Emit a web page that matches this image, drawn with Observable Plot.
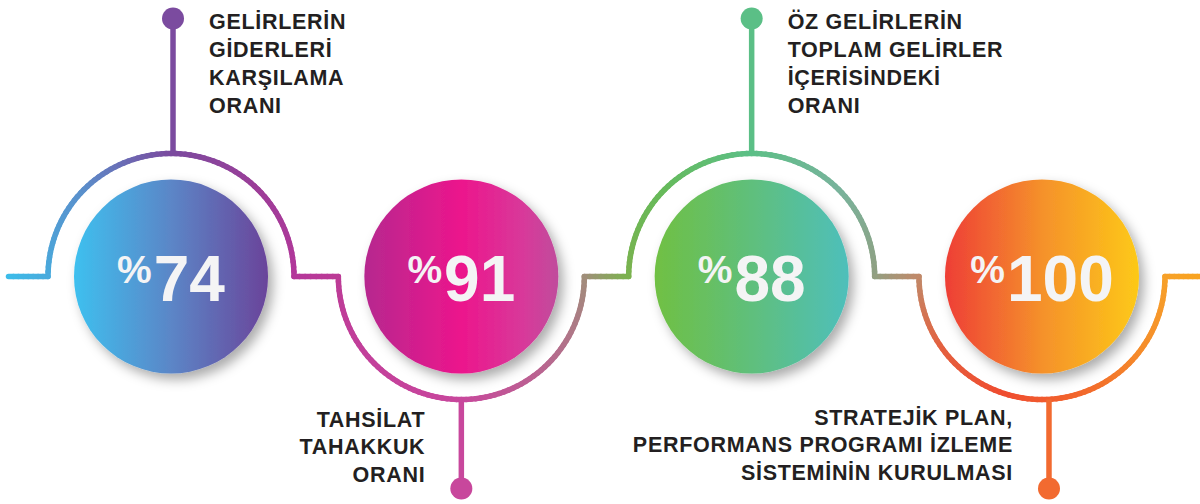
<!DOCTYPE html>
<html>
<head>
<meta charset="utf-8">
<script src="https://cdn.jsdelivr.net/npm/d3@7"></script>
<script src="https://cdn.jsdelivr.net/npm/@observablehq/plot@0.6"></script>
<style>
  html, body { margin: 0; padding: 0; background: #ffffff; }
  #chart svg { display: block; }
</style>
</head>
<body>
<div id="chart"></div>
<script>
// ---- DATA ----
const categories = [
  "GELİRLERİN\nGİDERLERİ\nKARŞILAMA\nORANI",
  "TAHSİLAT\nTAHAKKUK\nORANI",
  "ÖZ GELİRLERİN\nTOPLAM GELİRLER\nİÇERİSİNDEKİ\nORANI",
  "STRATEJİK PLAN,\nPERFORMANS PROGRAMI İZLEME\nSİSTEMİNİN KURULMASI"
];
const values = [74, 91, 88, 100];
const sides = ["top", "bottom", "top", "bottom"];

// ---- STYLE / LAYOUT ----
const W = 1200, H = 504;
const unit = 290.325;            // px per category step
const cy = 276;                  // centre line (px)
const R = 97;                    // ball radius (px)
const RA = 123;                  // arc radius (px)
const stemOff = [2, 0, 0, 7];    // px
const stemTopY = 18, stemBottomY = 488, dotR = 11;
const lineW = 5.5;
const labelSize = 21.5;
const valueFill = "#f4f4f5";
const labelFill = "#231f21";
const stemColors = ["#7b4b9f", "#c8479c", "#5bbf86", "#f26a30"];
const circleStops = [
  [[0, "#3ec0ef"], [0.5, "#5b86c7"], [1, "#6a449a"]],
  [[0, "#b6288f"], [0.5, "#ec168c"], [0.82, "#d8399a"], [1, "#c04c9c"]],
  [[0, "#70c043"], [0.5, "#5fbf7c"], [1, "#4ebfbb"]],
  [[0, "#ee3e36"], [0.5, "#f5912b"], [1, "#fdc918"]]
];
const pieces = [
  {type: "h", from: -162.5, to: -RA, i: 0, stops: ["#3bbdea", "#48abdd"]},
  {type: "top", i: 0, stops: ["#48abdd", "#5a90cc", "#7a4b9f", "#9c3d98", "#b3379a"]},
  {type: "h", i: 0, from: RA, to: unit - RA, stops: ["#b3379a", "#bc3b96"]},
  {type: "bottom", i: 1, stops: ["#bc3b96", "#c3409b", "#c8479c", "#b8678f", "#a28c7c"]},
  {type: "h", i: 1, from: RA, to: unit - RA, stops: ["#a28c7c", "#7cb24e"]},
  {type: "top", i: 2, stops: ["#7cb24e", "#66ba5a", "#5cbf86", "#78b39c", "#90a082"]},
  {type: "h", i: 2, from: RA, to: unit - RA, stops: ["#90a082", "#c08a6a"]},
  {type: "bottom", i: 3, stops: ["#c08a6a", "#e4613f", "#ef4c30", "#f2662c", "#f58c2a", "#f7a12a"]},
  {type: "h", i: 3, from: RA, to: 160, stops: ["#f7a12a", "#f8a31f"]}
];

// geometry of the connector line (derived from layout, not data)
const segs = [];
for (const p of pieces) {
  const interp = d3.piecewise(d3.interpolateRgb, p.stops);
  const n = p.type === "h" ? 8 : 80;
  const pt = (t) => {
    if (p.type === "h") return [p.i + (p.from + (p.to - p.from) * t) / unit, cy];
    const a = Math.PI * (1 - t);
    const dy = RA * Math.sin(a);
    return [p.i + RA * Math.cos(a) / unit, p.type === "top" ? cy - dy : cy + dy];
  };
  for (let k = 0; k < n; k++) {
    const t0 = k / n, t1 = (k + 1) / n;
    const [x1, y1] = pt(t0), [x2, y2] = pt(t1);
    segs.push({x1, y1, x2, y2, c: interp((t0 + t1) / 2)});
  }
}

const idx = values.map((d, i) => i);

const svg = Plot.plot({
  width: W,
  height: H,
  margin: 0,
  x: {domain: [-0.5, 3.5], range: [25.35, 1186.65], axis: null},
  y: {domain: [0, H], range: [0, H], axis: null},
  color: {type: "identity"},
  style: {background: "#ffffff"},
  marks: [
    Plot.link(segs, {x1: "x1", y1: "y1", x2: "x2", y2: "y2", stroke: "c", strokeWidth: lineW, strokeLinecap: "round"}),
    Plot.link(idx, {
      x1: i => i + stemOff[i] / unit, x2: i => i + stemOff[i] / unit,
      y1: i => sides[i] === "top" ? cy - RA : cy + RA,
      y2: i => sides[i] === "top" ? stemTopY : stemBottomY,
      stroke: i => stemColors[i], strokeWidth: lineW
    }),
    Plot.dot(idx, {
      x: i => i + stemOff[i] / unit,
      y: i => sides[i] === "top" ? stemTopY : stemBottomY,
      r: dotR, fill: i => stemColors[i], stroke: null
    }),
    Plot.dot(values, {x: (d, i) => i, y: () => cy, r: R, fill: (d, i) => `url(#cg${i})`, stroke: null}),
    Plot.text(values, {
      x: (d, i) => i, y: () => cy, text: d => "%" + d,
      fontSize: 64, fontWeight: "bold", fill: valueFill,
      fontFamily: "Liberation Sans, Arial, sans-serif",
      lineAnchor: "bottom", dy: 24, textAnchor: "middle"
    }),
    Plot.text(categories, {
      filter: (d, i) => sides[i] === "top",
      x: (d, i) => i + stemOff[i] / unit, y: () => 28.3 - 0.71 * 28, text: d => d,
      dx: 36, textAnchor: "start", lineAnchor: "top", lineHeight: 28 / labelSize,
      fontSize: labelSize, fontWeight: "bold", fill: labelFill,
      fontFamily: "Liberation Sans, Arial, sans-serif"
    }),
    Plot.text(categories, {
      filter: (d, i) => sides[i] === "bottom",
      x: (d, i) => i + stemOff[i] / unit, y: (d, i) => i === 1 ? 481 : 479, text: d => d,
      dx: -36, textAnchor: "end", lineAnchor: "bottom", lineHeight: 27.5 / labelSize,
      fontSize: labelSize, fontWeight: "bold", fill: labelFill,
      fontFamily: "Liberation Sans, Arial, sans-serif"
    })
  ]
});

// gradients + shadow
const s = d3.select(svg);
const defs = s.insert("defs", ":first-child");
circleStops.forEach((stops, i) => {
  const g = defs.append("linearGradient").attr("id", `cg${i}`).attr("x1", 0).attr("x2", 1).attr("y1", 0).attr("y2", 0);
  stops.forEach(([o, c]) => g.append("stop").attr("offset", o).attr("stop-color", c));
});
const f = defs.append("filter").attr("id", "sh").attr("x", "-30%").attr("y", "-30%").attr("width", "170%").attr("height", "170%");
f.append("feDropShadow").attr("dx", 5).attr("dy", 6).attr("stdDeviation", 6).attr("flood-color", "#000").attr("flood-opacity", 0.33);
s.selectAll('circle').filter(function () { return (this.getAttribute("fill") || "").startsWith("url(#cg"); })
  .attr("filter", "url(#sh)");

// "%" as smaller raised glyph
s.selectAll(`g[fill="${valueFill}"] text`).each(function () {
  const t = this.textContent;
  const el = d3.select(this);
  el.text(null);
  el.append("tspan").attr("font-size", "39px").attr("dy", -18).text(t[0]);
  el.append("tspan").attr("dy", 18).attr("dx", 2).text(t.slice(1));
});
s.selectAll(`g[fill="${labelFill}"] text`).style("letter-spacing", "0.7px");

document.getElementById("chart").appendChild(svg);
</script>
</body>
</html>
